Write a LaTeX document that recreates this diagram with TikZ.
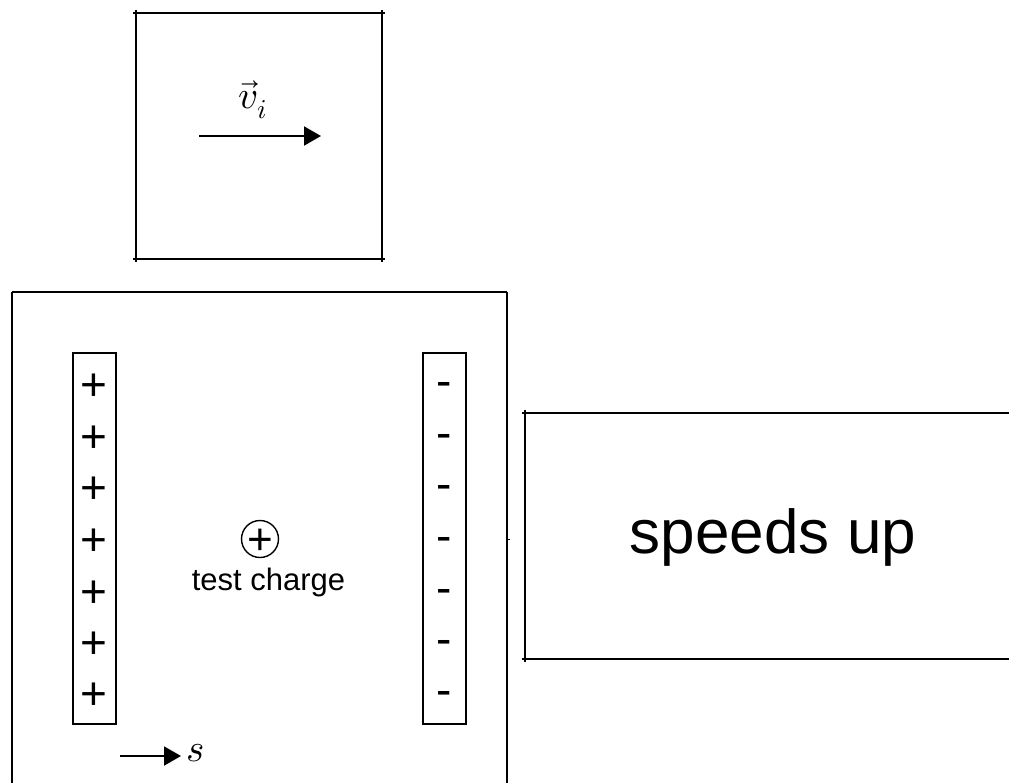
\documentclass[tikz,border=0pt]{standalone}
\usepackage{fontspec}
\setmainfont{Liberation Sans}
\usepackage{unicode-math}
\setmathfont{Latin Modern Math}
\usetikzlibrary{arrows.meta}
\tikzset{
  frame/.style={line width=2pt},
  plate/.style={draw, line width=1.6pt, minimum width=43pt, minimum height=371pt, inner sep=0pt},
  chg/.style={anchor=base, inner sep=0pt, font=\fontsize{46}{50}\selectfont},
  vecarrow/.style={line width=2pt, -{Triangle[length=17pt,width=19pt]}},
  mathlbl/.style={inner sep=0pt, font=\fontsize{39}{44}\selectfont},
}
\begin{document}
\begin{tikzpicture}[x=1pt,y=-1pt]
\clip (0,0) rectangle (1009,782);
\fill[white] (0,0) rectangle (1009,782);
% top box
\draw[frame] (133,13) -- (385,13);
\draw[frame] (133,259) -- (385,259);
\draw[frame] (136,10) -- (136,262);
\draw[frame] (382,10) -- (382,262);
\coordinate (vi0) at (199,136);
\coordinate (vi1) at (321,136);
\draw[vecarrow] (vi0) -- (vi1);
\node[mathlbl] (vil) at (253,100) {$\vec{v}_i$};
% big box
\draw[frame] (12,292) -- (507,292);
\draw[frame] (12,292) -- (12,790);
\draw[frame] (507,292) -- (507,790);
\draw[line width=1pt] (507,539) -- (510,539);
% plates
\node[plate] (lp) at (94.5,538.5) {};
\node[plate] (rp) at (444.5,538.5) {};
\foreach \y [count=\i] in {384,436,487,539,591,642,693} {
  \node[chg] (p\i) at (94,\y+16) {+};
  \node[chg] (m\i) at (444,\y+12) {-};
}
% test charge
\node[circle, draw, line width=1.4pt, minimum size=37pt, inner sep=0pt] (tc) at (260,539) {};
\node[inner sep=0pt, font=\fontsize{44}{48}\selectfont] (tcp) at (260,541.5) {+};
\node[anchor=base, inner sep=0pt, font=\fontsize{31}{36}\selectfont] (tct) at (268.5,590) {test charge};
% s arrow
\coordinate (s0) at (120,756);
\coordinate (s1) at (181,756);
\draw[vecarrow] (s0) -- (s1);
\node[mathlbl, anchor=west] (sl) at (186,753) {$s$};
% speeds up box
\draw[frame] (522,413) -- (1012,413);
\draw[frame] (522,659) -- (1012,659);
\draw[frame] (525,410) -- (525,662);
\node[anchor=base, inner sep=0pt, font=\fontsize{62}{70}\selectfont] (su) at (773,553) {speeds up};
\end{tikzpicture}
\end{document}
